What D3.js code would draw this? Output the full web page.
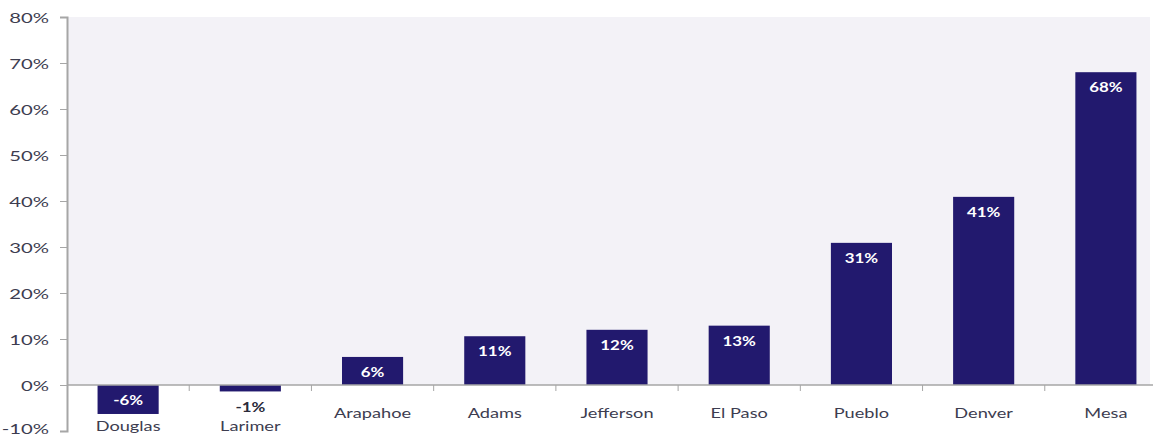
<!DOCTYPE html>
<html><head><meta charset="utf-8">
<script src="https://cdn.jsdelivr.net/npm/d3@7"></script>
<style>body{margin:0;background:#fff}svg{display:block}</style>
</head><body>
<svg id="c" width="1153" height="438"></svg>
<script>
const categories = ["Douglas","Larimer","Arapahoe","Adams","Jefferson","El Paso","Pueblo","Denver","Mesa"];
const values = [-6.3,-1.4,6.1,10.6,12.0,12.9,30.9,40.9,68.0];
const yTicks = [-10,0,10,20,30,40,50,60,70,80];

const svg = d3.select("#c");
const font = "Lato, 'Open Sans', sans-serif";
const left = 67, right = 1167;
const x = d3.scaleBand().domain(categories).range([left, right]).paddingInner(0.5).paddingOuter(0.25);
const y = d3.scaleLinear().domain([-10, 80]).range([431, 17]);

// plot background (above zero line)
svg.append("rect").attr("x", left).attr("y", y(80)).attr("width", 1150 - left).attr("height", y(0) - y(80)).attr("fill", "#f3f2f7");

// y axis
const ya = svg.append("g").attr("transform", `translate(${left},0)`)
  .call(d3.axisLeft(y).tickValues(yTicks).tickSize(7).tickFormat(d => d + "%"));
ya.select(".domain").attr("stroke", "#a6a6a6").attr("stroke-width", 2);
ya.selectAll(".tick line").attr("stroke", "#a6a6a6");
ya.selectAll("text")
  .attr("x", 0).attr("dy", null).attr("y", d => d === -10 ? 2 : 5)
  .attr("transform", "translate(-18,0) scale(1.45,1)")
  .attr("font-family", font).attr("font-size", 14).attr("fill", "#3d3d50");

// bars
svg.selectAll("rect.bar").data(values).join("rect").attr("class", "bar")
  .attr("x", (d, i) => x(categories[i]))
  .attr("width", x.bandwidth())
  .attr("y", d => y(Math.max(0, d)))
  .attr("height", d => Math.abs(y(d) - y(0)))
  .attr("fill", "#22196e");

// zero line with category ticks
svg.append("line").attr("x1", left).attr("x2", 1153).attr("y1", y(0)).attr("y2", y(0)).attr("stroke", "#a6a6a6").attr("stroke-width", 1.5);
const step = x.step();
svg.selectAll("line.ct").data(categories.slice(1)).join("line").attr("class", "ct")
  .attr("x1", (d) => x(d) - step * 0.25).attr("x2", (d) => x(d) - step * 0.25)
  .attr("y1", y(0)).attr("y2", y(0) + 6).attr("stroke", "#a6a6a6");

// value labels
const inside = d => d >= 0 || (y(d) - y(0) > 22);
svg.selectAll("text.val").data(values).join("text").attr("class", "val")
  .attr("transform", (d, i) => {
    const cx = x(categories[i]) + x.bandwidth() / 2;
    const cy = d >= 0 ? y(d) + 20 : (inside(d) ? y(0) + 20 : y(d) + 21);
    return `translate(${cx},${cy}) scale(1.3,1)`;
  })
  .attr("text-anchor", "middle")
  .attr("font-family", font).attr("font-weight", "bold").attr("font-size", 13)
  .attr("fill", d => inside(d) ? "#ffffff" : "#2a2a3a")
  .text(d => Math.round(d) + "%");

// category labels
svg.selectAll("text.cat").data(categories).join("text").attr("class", "cat")
  .attr("transform", (d, i) => `translate(${x(d) + x.bandwidth() / 2},${values[i] < 0 ? 431 : 418}) scale(1.3,1)`)
  .attr("text-anchor", "middle")
  .attr("font-family", font).attr("font-size", 14).attr("fill", "#3d3d50")
  .text(d => d);
</script>
</body></html>
